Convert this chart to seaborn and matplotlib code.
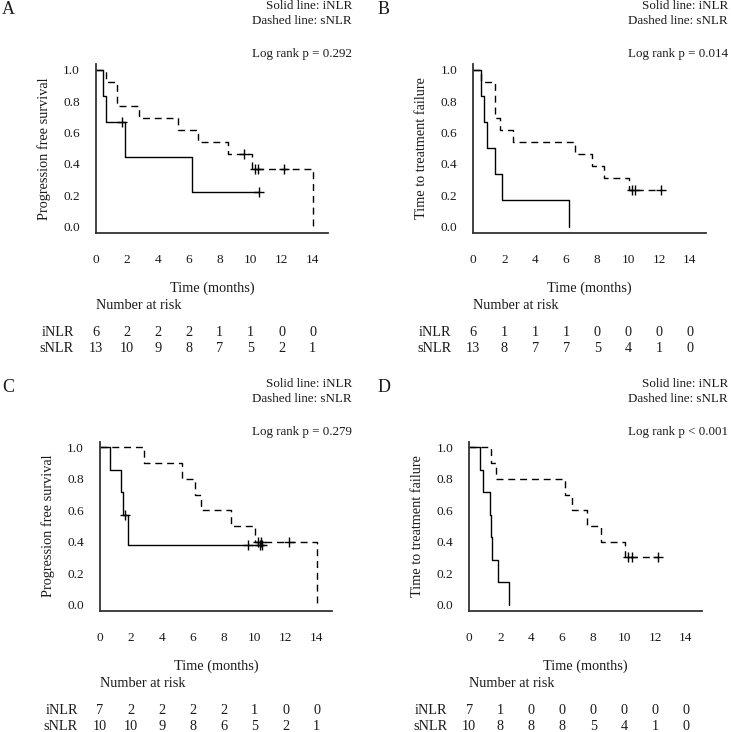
import numpy as np
import pandas as pd
import matplotlib
matplotlib.use("Agg")
import matplotlib.pyplot as plt
import seaborn as sns

sns.set_theme(style="white")
plt.rcParams['font.family'] = ['Liberation Serif', 'DejaVu Serif']

# ---- data ----
panel_letters = ["A", "B", "C", "D"]
y_titles = ["Progression free survival", "Time to treatment failure",
            "Progression free survival", "Time to treatment failure"]
p_texts = ["Log rank p = 0.292", "Log rank p = 0.014",
           "Log rank p = 0.279", "Log rank p < 0.001"]
risk_times = [0, 2, 4, 6, 8, 10, 12, 14]

# A: PFS
a_i_t = [0, 0.48, 0.65, 1.85, 6.2, 10.5]
a_i_s = [1, 0.833, 0.667, 0.444, 0.222, 0.222]
a_i_ct = [1.65, 10.5]
a_i_cs = [0.667, 0.222]
a_s_t = [0, 0.65, 1.36, 2.76, 5.28, 6.61, 8.5, 10.05, 14.0]
a_s_s = [1, 0.923, 0.769, 0.692, 0.615, 0.538, 0.462, 0.369, 0]
a_s_ct = [9.58, 10.27, 10.48, 12.16]
a_s_cs = [0.462, 0.369, 0.369, 0.369]
a_risk_i = [6, 2, 2, 2, 1, 1, 0, 0]
a_risk_s = [13, 10, 9, 8, 7, 5, 2, 1]

# B: TTF
b_i_t = [0, 0.5, 0.69, 0.9, 1.4, 1.85, 6.19]
b_i_s = [1, 0.833, 0.667, 0.5, 0.333, 0.167, 0]
b_i_ct = []
b_i_cs = []
b_s_t = [0, 0.5, 1.4, 1.72, 2.54, 6.6, 7.64, 8.45, 10.05, 12.15]
b_s_s = [1, 0.923, 0.692, 0.615, 0.538, 0.462, 0.385, 0.308, 0.231, 0.231]
b_s_ct = [10.22, 10.43, 12.15]
b_s_cs = [0.231, 0.231, 0.231]
b_risk_i = [6, 1, 1, 1, 0, 0, 0, 0]
b_risk_s = [13, 8, 7, 7, 5, 4, 1, 0]

# C: PFS
c_i_t = [0, 0.65, 1.34, 1.47, 1.83, 10.5]
c_i_s = [1, 0.857, 0.714, 0.571, 0.381, 0.381]
c_i_ct = [1.61, 9.58, 10.34, 10.49]
c_i_cs = [0.571, 0.381, 0.381, 0.381]
c_s_t = [0, 2.84, 5.28, 6.13, 6.54, 8.44, 10.02, 14.0]
c_s_s = [1, 0.9, 0.8, 0.7, 0.6, 0.5, 0.4, 0]
c_s_ct = [10.2, 10.4, 12.2]
c_s_cs = [0.4, 0.4, 0.4]
c_risk_i = [7, 2, 2, 2, 2, 1, 0, 0]
c_risk_s = [10, 10, 9, 8, 6, 5, 2, 1]

# D: TTF
d_i_t = [0, 0.69, 0.86, 1.36, 1.40, 1.45, 1.83, 2.54]
d_i_s = [1, 0.857, 0.714, 0.571, 0.429, 0.286, 0.143, 0]
d_i_ct = []
d_i_cs = []
d_s_t = [0, 1.4, 1.7, 6.18, 6.65, 7.58, 8.5, 10.06, 12.2]
d_s_s = [1, 0.9, 0.8, 0.7, 0.6, 0.5, 0.4, 0.3, 0.3]
d_s_ct = [10.27, 10.49, 12.2]
d_s_cs = [0.3, 0.3, 0.3]
d_risk_i = [7, 1, 0, 0, 0, 0, 0, 0]
d_risk_s = [10, 8, 8, 8, 5, 4, 1, 0]

panels = [
    (a_i_t, a_i_s, a_i_ct, a_i_cs, a_s_t, a_s_s, a_s_ct, a_s_cs, a_risk_i, a_risk_s),
    (b_i_t, b_i_s, b_i_ct, b_i_cs, b_s_t, b_s_s, b_s_ct, b_s_cs, b_risk_i, b_risk_s),
    (c_i_t, c_i_s, c_i_ct, c_i_cs, c_s_t, c_s_s, c_s_ct, c_s_cs, c_risk_i, c_risk_s),
    (d_i_t, d_i_s, d_i_ct, d_i_cs, d_s_t, d_s_s, d_s_ct, d_s_cs, d_risk_i, d_risk_s),
]

W, H = 731, 732
fig = plt.figure(figsize=(W / 100, H / 100), dpi=100)

# axes boxes in pixels: left, bottom-of-xaxis (from top), top (from top)
boxes = [(96, 232.7, 64), (473.3, 232.7, 64), (100, 610.7, 441.6), (469.3, 610.7, 441.6)]
ax_w = 232.2
# header text positions (pixels from top-left)
letter_xy = [(2, 10), (378, 10), (2, 388), (378, 388)]
right_x = [352, 728, 352, 728]
head_y = [(6, 21, 53.5), (6, 21, 53.5), (384, 399.5, 431.7), (384, 399.5, 431.7)]

FS_TICK = 9.6
FS_LAB = 10.3
FS_HEAD = 9.4
TXT = "#1a1a1a"
px2pt = 72 / 100


def fx(x):
    return x / W


def fy(y):
    return 1 - y / H


for k, (box, data) in enumerate(zip(boxes, panels)):
    left, bot, top = box
    ax = fig.add_axes([fx(left), fy(bot), ax_w / W, (bot - top) / H])
    it, isv, ict, ics, st, ssv, sct, scs, ri, rs = data

    sns.lineplot(x=it, y=isv, drawstyle="steps-post", estimator=None, sort=False,
                 color="black", lw=1.0, ax=ax)
    sns.lineplot(x=st, y=ssv, drawstyle="steps-post", estimator=None, sort=False,
                 color="black", lw=1.0, ax=ax, linestyle=(0, (5, 3.5)))
    if len(ict):
        sns.scatterplot(x=ict, y=ics, marker="+", s=45, color="black",
                        linewidth=1.0, ax=ax, zorder=5)
    sns.scatterplot(x=sct, y=scs, marker="+", s=45, color="black",
                    linewidth=1.0, ax=ax, zorder=5)

    ax.set_xlim(0, 15)
    ax.set_ylim(-0.038, 1.036)
    ax.set_xticks(risk_times)
    ax.set_yticks([0, 0.2, 0.4, 0.6, 0.8, 1.0])
    ax.set_yticklabels(["0.0", "0.2", "0.4", "0.6", "0.8", "1.0"])
    for s in ["top", "right"]:
        ax.spines[s].set_visible(False)
    for s in ["left", "bottom"]:
        ax.spines[s].set_color("#333333")
        ax.spines[s].set_linewidth(1.3)
    ax.tick_params(axis="both", direction="out", length=6.5, width=0.9,
                   color="#888888", labelsize=FS_TICK, labelcolor=TXT)
    ax.tick_params(axis="x", pad=9.0)
    ax.tick_params(axis="y", pad=5.0)
    ax.set_xlabel("")
    ax.set_ylabel("")
    ax.grid(False)
    ax.set_facecolor("none")

    # y title
    ax.text(-52 / ax_w, 0.5, y_titles[k], rotation=90, ha="center", va="center",
            transform=ax.transAxes, fontsize=FS_LAB, color=TXT)

    def below(txt, x, off_px, ha="center"):
        ax.annotate(txt, xy=(x, 0), xycoords=("data", "axes fraction"),
                    xytext=(0, -off_px * px2pt), textcoords="offset points",
                    ha=ha, va="center", fontsize=FS_LAB, color=TXT, annotation_clip=False)

    below("Time (months)", 7.5, 55.5)
    below("Number at risk", 0, 72.8, ha="left")
    for t, a, b in zip(risk_times, ri, rs):
        below(str(a), t, 99.8)
        below(str(b), t, 115.8)
    ax.annotate("iNLR", xy=(0, 0), xycoords=("data", "axes fraction"),
                xytext=(-22 * px2pt, -99.8 * px2pt), textcoords="offset points",
                ha="right", va="center", fontsize=FS_LAB, color=TXT)
    ax.annotate("sNLR", xy=(0, 0), xycoords=("data", "axes fraction"),
                xytext=(-22 * px2pt, -115.8 * px2pt), textcoords="offset points",
                ha="right", va="center", fontsize=FS_LAB, color=TXT)

    lx, ly = letter_xy[k]
    fig.text(fx(lx), fy(ly), panel_letters[k], ha="left", va="center",
             fontsize=13, color=TXT)
    h1, h2, h3 = head_y[k]
    fig.text(fx(right_x[k]), fy(h1), "Solid line: iNLR", ha="right", va="center",
             fontsize=FS_HEAD, color=TXT)
    fig.text(fx(right_x[k]), fy(h2), "Dashed line: sNLR", ha="right", va="center",
             fontsize=FS_HEAD, color=TXT)
    fig.text(fx(right_x[k]), fy(h3), p_texts[k], ha="right", va="center",
             fontsize=FS_HEAD, color=TXT)

fig.savefig("out.png", dpi=100, facecolor="white")
